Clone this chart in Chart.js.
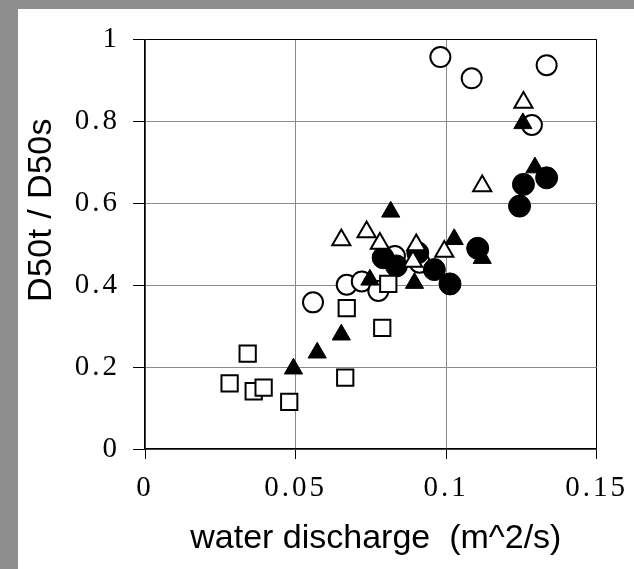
<!DOCTYPE html>
<html>
<head>
<meta charset="utf-8">
<script src="https://cdn.jsdelivr.net/npm/chart.js@4/dist/chart.umd.min.js"></script>
<style>
  html, body { margin: 0; padding: 0; background: #8e8e8e; width: 634px; height: 569px; overflow: hidden; }
  #box { position: absolute; left: 18px; top: 9px; width: 616px; height: 560px; background: #fff; }
</style>
</head>
<body>
<div id="box"><canvas id="chart" width="616" height="560"></canvas></div>
<script>
// axis ticks
const xTicks = [0, 0.05, 0.1, 0.15]
const yTicks = [0, 0.2, 0.4, 0.6, 0.8, 1]
const xTitle = 'water discharge  (m^2/s)'
const yTitle = 'D50t / D50s'

// open squares
const squareX = [0.0341, 0.0281, 0.0361, 0.0394, 0.0479, 0.0670, 0.0788, 0.0665, 0.0808]
const squareY = [0.233, 0.160, 0.141, 0.150, 0.115, 0.344, 0.296, 0.174, 0.403]

// filled triangles
const triFillX = [0.0493, 0.0572, 0.0652, 0.0747, 0.0895, 0.0816, 0.1027, 0.1120, 0.1255, 0.1295]
const triFillY = [0.196, 0.235, 0.279, 0.413, 0.405, 0.579, 0.512, 0.466, 0.795, 0.687]

// open triangles
const triOpenX = [0.0652, 0.0736, 0.0780, 0.0901, 0.0890, 0.0994, 0.1257, 0.1120]
const triOpenY = [0.510, 0.530, 0.502, 0.498, 0.458, 0.482, 0.846, 0.642]

// open circles
const circOpenX = [0.0981, 0.1085, 0.1334, 0.1285, 0.0558, 0.0670, 0.0720, 0.0775, 0.0830, 0.0912]
const circOpenY = [0.957, 0.905, 0.937, 0.791, 0.358, 0.401, 0.409, 0.386, 0.471, 0.455]

// filled circles
const circFillX = [0.0791, 0.0835, 0.0906, 0.0961, 0.1013, 0.1105, 0.1257, 0.1334, 0.1244]
const circFillY = [0.467, 0.447, 0.479, 0.438, 0.403, 0.490, 0.646, 0.662, 0.593]

const pts = (xs, ys) => xs.map((x, i) => ({ x, y: ys[i] }))

const serif = '"Liberation Serif", "Times New Roman", serif'
const sans = '"Liberation Sans", Arial, sans-serif'

// titles drawn by hand so the wide tick spacing doesn't touch them
const axisTitles = {
  id: 'axisTitles',
  beforeDraw(chart) {
    chart.ctx.letterSpacing = '3px'
  },
  afterDraw(chart) {
    const { ctx, chartArea } = chart
    ctx.save()
    ctx.fillStyle = '#000'
    ctx.textAlign = 'center'
    ctx.textBaseline = 'middle'
    ctx.font = '34px ' + sans
    ctx.letterSpacing = '0px'
    ctx.fillText(xTitle, (chartArea.left + chartArea.right) / 2 + 5, chartArea.bottom + 90)
    ctx.letterSpacing = '0.4px'
    ctx.translate(24, 201)
    ctx.rotate(-Math.PI / 2)
    ctx.fillText(yTitle, 0, 0)
    ctx.restore()
  }
}

const edgeColor = (edge) => (c) => (c.tick && c.tick.value === edge) ? '#000' : '#8a8a8a'

new Chart(document.getElementById('chart'), {
  type: 'scatter',
  data: {
    datasets: [
      { data: pts(squareX, squareY), pointStyle: 'rect', pointRadius: 11.5,
        backgroundColor: '#fff', borderColor: '#000', borderWidth: 2 },
      { data: pts(triOpenX, triOpenY), pointStyle: 'triangle', pointRadius: 10.5,
        backgroundColor: '#fff', borderColor: '#000', borderWidth: 2 },
      { data: pts(triFillX, triFillY), pointStyle: 'triangle', pointRadius: 10.5,
        backgroundColor: '#000', borderColor: '#000', borderWidth: 1 },
      { data: pts(circFillX, circFillY), pointStyle: 'circle', pointRadius: 11,
        backgroundColor: '#000', borderColor: '#000', borderWidth: 1 },
      { data: pts(circOpenX, circOpenY), pointStyle: 'circle', pointRadius: 10,
        backgroundColor: '#fff', borderColor: '#000', borderWidth: 2 },
    ]
  },
  options: {
    responsive: false,
    devicePixelRatio: 1,
    animation: false,
    events: [],
    layout: { padding: { top: 29, right: 34, left: 0, bottom: 0 } },
    plugins: { legend: { display: false }, tooltip: { enabled: false } },
    scales: {
      x: {
        type: 'linear', min: 0, max: 0.15,
        afterBuildTicks: (s) => { s.ticks = xTicks.map(v => ({ value: v })) },
        afterFit: (s) => { s.height = 120 },
        ticks: { font: { family: serif, size: 29 }, color: '#000', padding: 12, maxRotation: 0,
          callback: (v) => String(v) },
        grid: { color: edgeColor(0.15), lineWidth: 1, tickColor: '#000', tickLength: 10 },
        border: { color: '#000', width: 1.5 }
      },
      y: {
        type: 'linear', min: 0, max: 1,
        afterBuildTicks: (s) => { s.ticks = yTicks.map(v => ({ value: v })) },
        afterFit: (s) => { s.width = 127 },
        ticks: { font: { family: serif, size: 29 }, color: '#000', padding: 13,
          callback: (v) => String(v) },
        grid: { color: edgeColor(1), lineWidth: 1, tickColor: '#000', tickLength: 12 },
        border: { color: '#000', width: 1.5 }
      }
    }
  },
  plugins: [axisTitles]
})
</script>
</body>
</html>
